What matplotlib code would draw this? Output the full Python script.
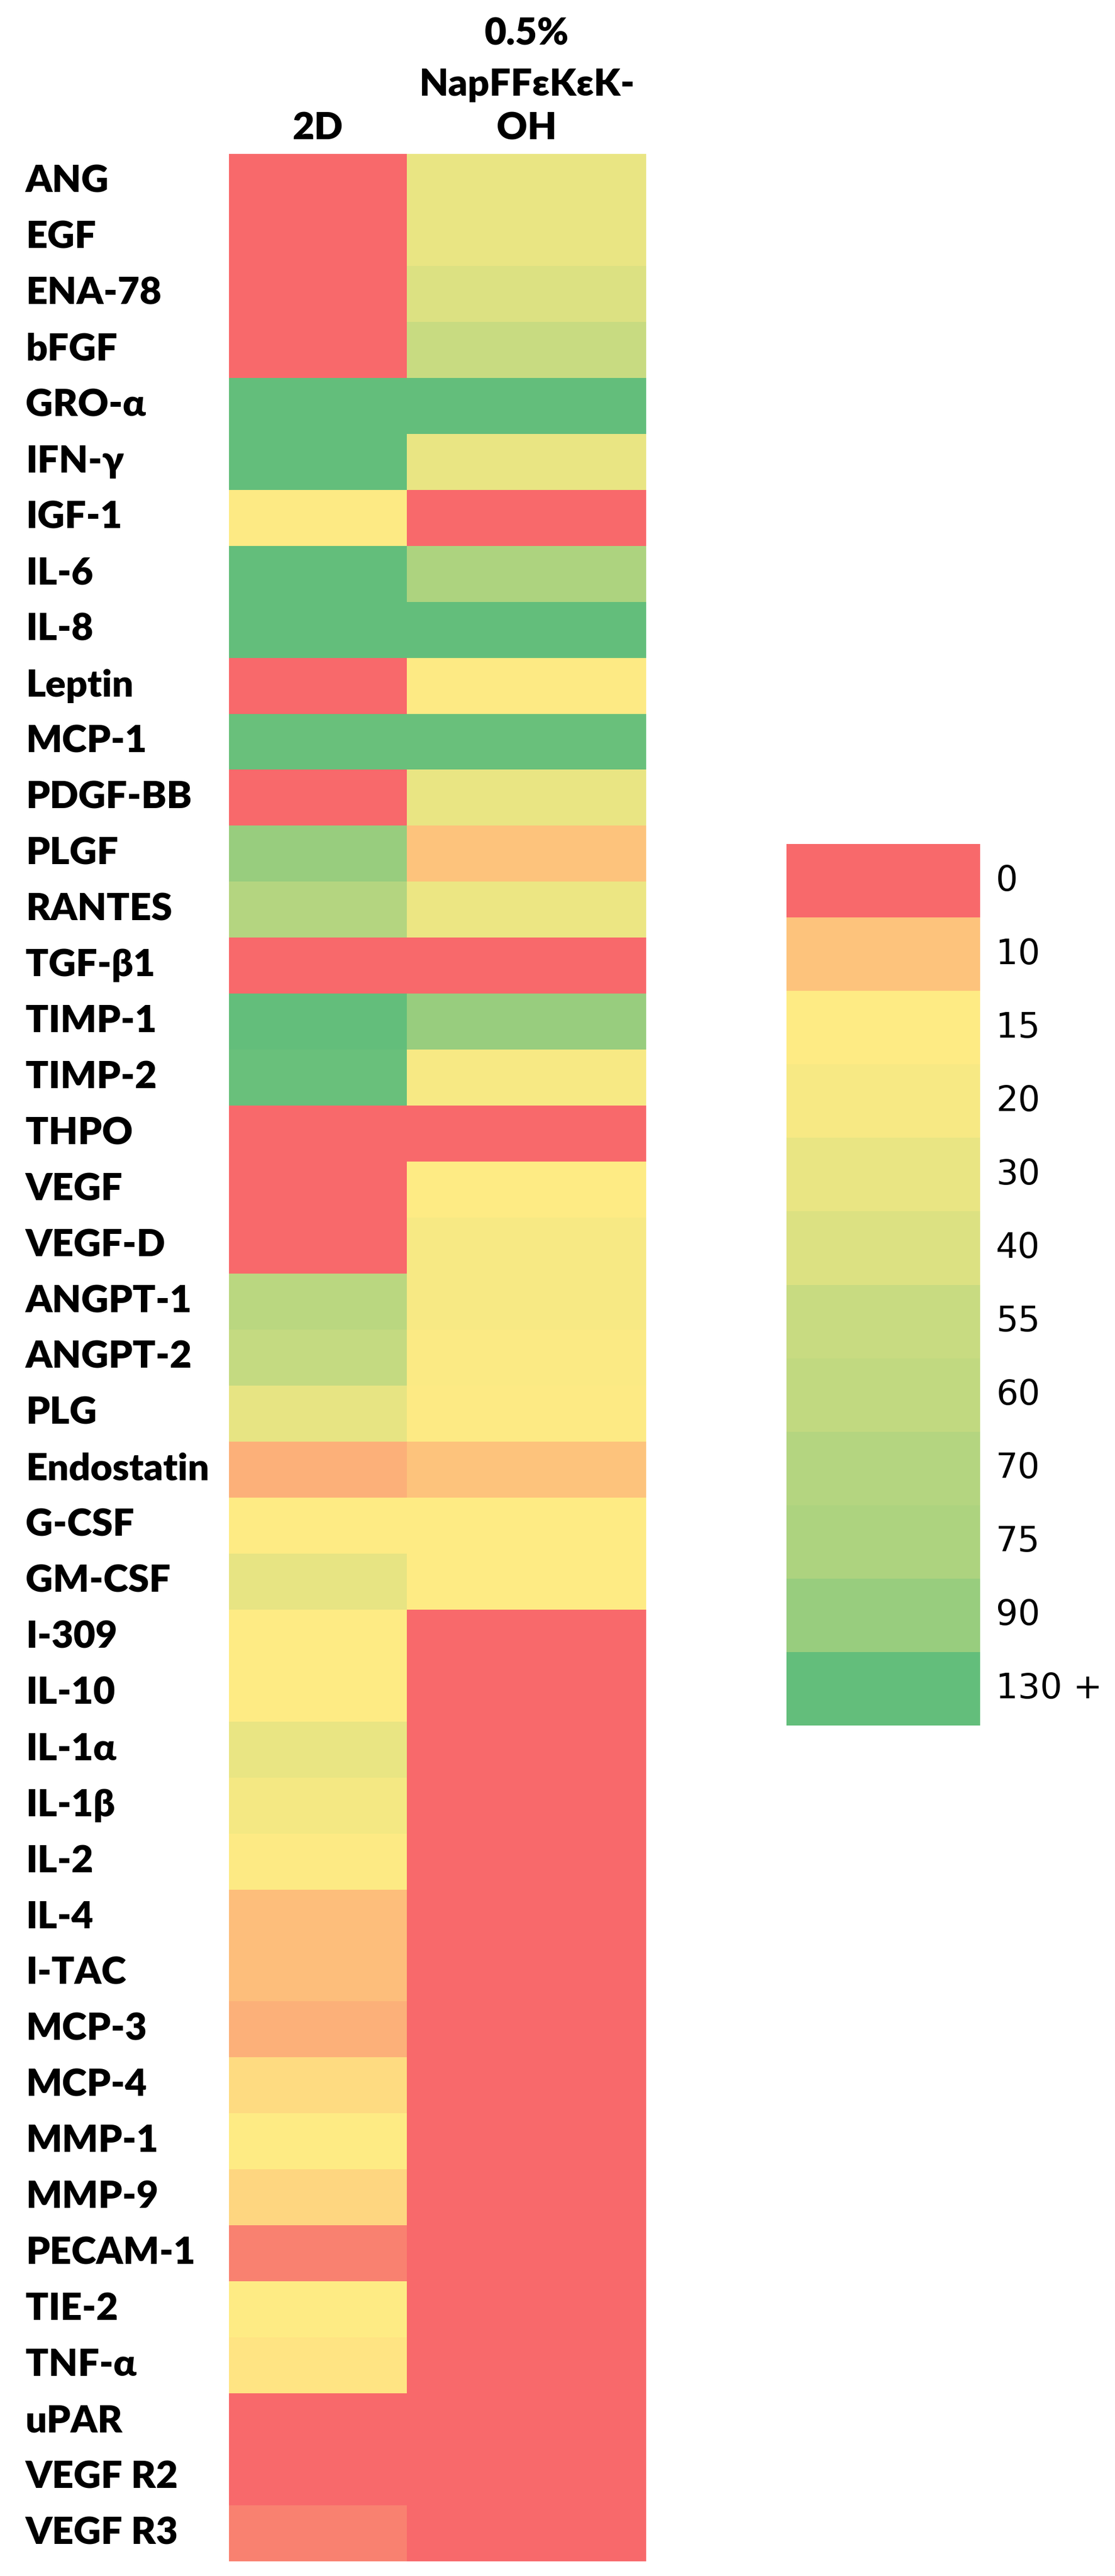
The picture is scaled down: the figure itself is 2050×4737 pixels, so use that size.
import numpy as np
import matplotlib
matplotlib.use("Agg")
import matplotlib.pyplot as plt
from matplotlib.colors import LinearSegmentedColormap, Normalize
from matplotlib.transforms import blended_transform_factory

# Cytokines (rows, top to bottom)
proteins = ["ANG", "EGF", "ENA-78", "bFGF", "GRO-α", "IFN-γ", "IGF-1", "IL-6", "IL-8",
            "Leptin", "MCP-1", "PDGF-BB", "PLGF", "RANTES", "TGF-β1", "TIMP-1", "TIMP-2",
            "THPO", "VEGF", "VEGF-D", "ANGPT-1", "ANGPT-2", "PLG", "Endostatin", "G-CSF",
            "GM-CSF", "I-309", "IL-10", "IL-1α", "IL-1β", "IL-2", "IL-4", "I-TAC", "MCP-3",
            "MCP-4", "MMP-1", "MMP-9", "PECAM-1", "TIE-2", "TNF-α", "uPAR", "VEGF R2", "VEGF R3"]

conditions = ["2D", "0.5%\nNapFFεKεK-\nOH"]

# values (130 = "130 +")
vals_2d = [0, 0, 0, 0, 130, 130, 16, 130, 130,
           0, 125, 0, 90, 70, 0, 130, 125,
           0, 0, 0, 65, 58, 32, 7.7, 15,
           32, 15, 15, 30, 22, 16, 9.2, 9.2, 7.8,
           12.3, 15, 12, 2.7, 15, 13.5, 0, 0, 3]
vals_gel = [30, 30, 40, 55, 130, 30, 0, 75, 130,
            16, 125, 30, 10, 28, 0, 90, 20,
            0, 15, 20, 20, 17, 16, 10, 15,
            15, 0, 0, 0, 0, 0, 0, 0, 0,
            0, 0, 0, 0, 0, 0, 0, 0, 0]

legend_vals = [0, 10, 15, 20, 30, 40, 55, 60, 70, 75, 90, 130]
legend_labels = ["0", "10", "15", "20", "30", "40", "55", "60", "70", "75", "90", "130 +"]

# Excel style 3-colour scale
cmap = LinearSegmentedColormap.from_list(
    "excel3", [(0.0, "#F8696B"), (14 / 130, "#FFEB84"), (1.0, "#63BE7B")])
norm = Normalize(vmin=0, vmax=130)

W, H = 2050, 4737
fig = plt.figure(figsize=(W / 100, H / 100), dpi=100)

lab_font = ["Lato", "DejaVu Sans"]

# ---- heatmap ----
hx0, hx1, hsplit = 421, 1188, 748
hy0, hy1 = 283, 4710
ax = fig.add_axes([hx0 / W, 1 - hy1 / H, (hx1 - hx0) / W, (hy1 - hy0) / H])
data = np.column_stack([vals_2d, vals_gel])
xedges = [0, hsplit - hx0, hx1 - hx0]
yedges = np.arange(len(proteins) + 1)
ax.pcolormesh(xedges, yedges, data, cmap=cmap, norm=norm)
ax.set_xlim(xedges[0], xedges[-1])
ax.set_ylim(len(proteins), 0)
ax.axis("off")

# row labels
tr = blended_transform_factory(fig.transFigure, ax.transData)
for i, name in enumerate(proteins):
    ax.text(47 / W, i + 0.5, name, transform=tr, ha="left", va="center",
            fontsize=50, fontweight="heavy", family=lab_font)

# column headers
row_h = (hy1 - hy0) / len(proteins)
line_y = [237, 157, 63]  # pixel centers of header lines, bottom line first
for j, cond in enumerate(conditions):
    xc = (xedges[j] + xedges[j + 1]) / 2
    for k, line in enumerate(reversed(cond.split("\n"))):
        ax.text(xc, -(hy0 - line_y[k]) / row_h, line, ha="center", va="center",
                fontsize=50, fontweight="heavy", family=lab_font, clip_on=False)

# ---- colour key ----
lx0, lx1 = 1446, 1802
ly0, ly1 = 1552, 3173
lax = fig.add_axes([lx0 / W, 1 - ly1 / H, (lx1 - lx0) / W, (ly1 - ly0) / H])
lax.pcolormesh([0, 1], np.arange(len(legend_vals) + 1),
               np.array(legend_vals).reshape(-1, 1), cmap=cmap, norm=norm)
lax.set_xlim(0, 1)
lax.set_ylim(len(legend_vals), 0)
lax.axis("off")
tr2 = blended_transform_factory(fig.transFigure, lax.transData)
for i, lab in enumerate(legend_labels):
    lax.text(1831 / W, i + 0.5, lab, transform=tr2, ha="left", va="center",
             fontsize=46, family="DejaVu Sans")

fig.savefig("out.png", dpi=100, facecolor="white")
